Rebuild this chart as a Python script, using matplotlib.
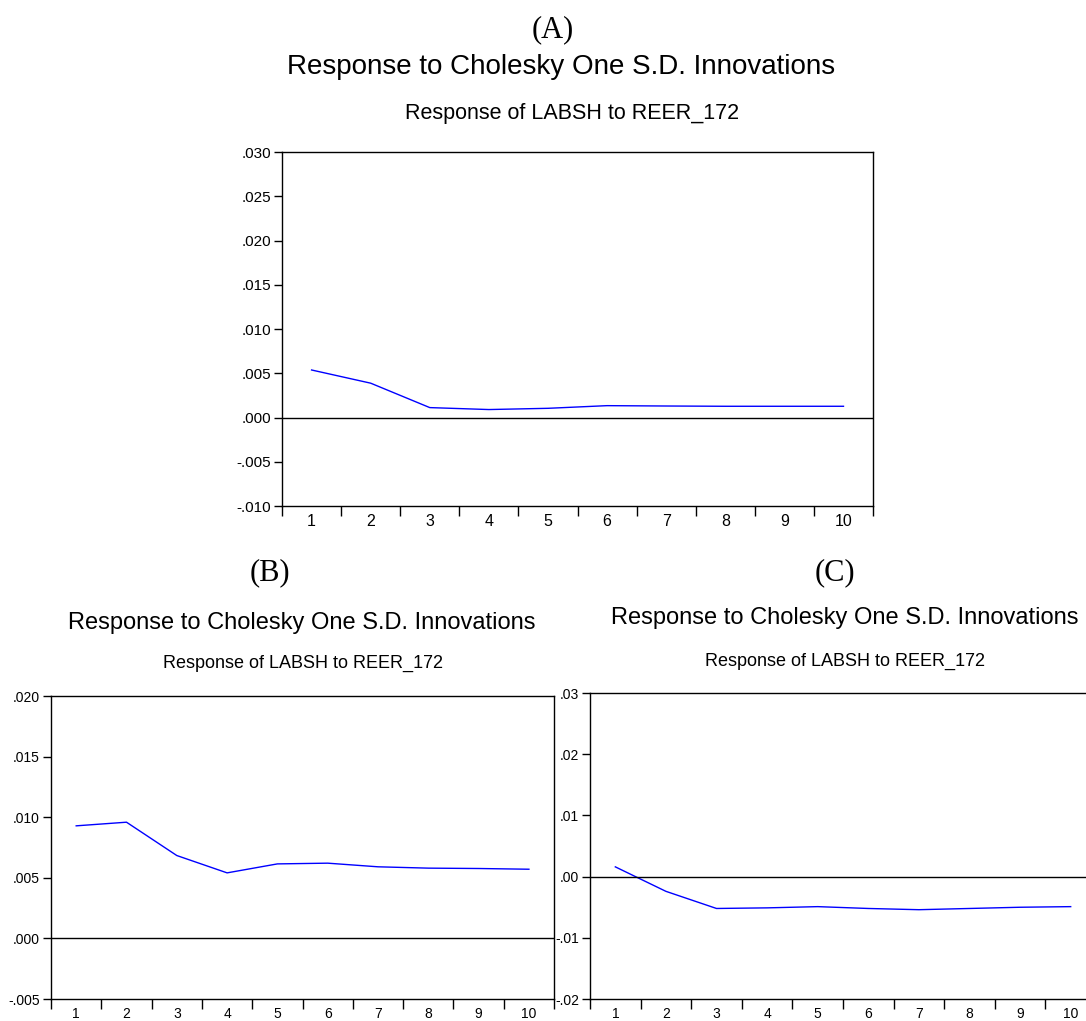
import matplotlib
matplotlib.use("Agg")
import matplotlib.pyplot as plt
import numpy as np

plt.rcParams["font.family"] = ["Liberation Sans", "DejaVu Sans"]

# impulse responses
periods = np.arange(1, 11)
resp_a = [0.00537, 0.00388, 0.00112, 0.00090, 0.00104, 0.00134, 0.00130, 0.00127, 0.00127, 0.00127]
resp_b = [0.00929, 0.00959, 0.00684, 0.00541, 0.00615, 0.00621, 0.00591, 0.00580, 0.00577, 0.00571]
resp_c = [0.0016, -0.0024, -0.0052, -0.0051, -0.0049, -0.0052, -0.0054, -0.0052, -0.0050, -0.0049]

yticks_a = [-0.010, -0.005, 0.000, 0.005, 0.010, 0.015, 0.020, 0.025, 0.030]
yticks_b = [-0.005, 0.000, 0.005, 0.010, 0.015, 0.020]
yticks_c = [-0.02, -0.01, 0.00, 0.01, 0.02, 0.03]

main_title = "Response to Cholesky One S.D. Innovations"
sub_title = "Response of LABSH to REER_172"


def fmt(v, nd):
    s = f"{v:.{nd}f}"
    return s.replace("0.", ".", 1)


def panel(ax, y, yticks, nd, fs_y, fs_x):
    ax.plot(periods, y, color="#0000ff", lw=1.0)
    ax.axhline(0, color="black", lw=1.0)
    ax.set_xlim(0.5, 10.5)
    ax.set_ylim(yticks[0], yticks[-1])
    ax.set_yticks(yticks)
    ax.set_yticklabels([fmt(v, nd) for v in yticks], fontsize=fs_y)
    # tick marks between periods, labels centred on periods
    ax.set_xticks(np.arange(0.5, 11, 1.0))
    ax.set_xticklabels([])
    ax.set_xticks(periods, minor=True)
    ax.set_xticklabels([str(p) for p in periods], minor=True, fontsize=fs_x)
    ax.tick_params(axis="x", which="major", direction="out", length=7, width=1)
    ax.tick_params(axis="x", which="minor", length=0, pad=6)
    ax.tick_params(axis="y", direction="out", length=6, width=1, pad=2)
    for sp in ax.spines.values():
        sp.set_linewidth(1.0)


fig = plt.figure(figsize=(10.86, 10.21), dpi=100)

ax_a = fig.add_axes([0.2597, 0.5044, 0.5442, 0.3467])
panel(ax_a, resp_a, yticks_a, 3, 11, 11.5)

ax_b = fig.add_axes([0.0470, 0.0215, 0.4632, 0.2968])
panel(ax_b, resp_b, yticks_b, 3, 10, 10)

ax_c = fig.add_axes([0.5433, 0.0215, 0.4659, 0.2997])
panel(ax_c, resp_c, yticks_c, 2, 10, 10)

serif = ["Liberation Serif", "DejaVu Serif"]
fig.text(0.509, 0.9706, "(A)", family=serif, fontsize=22, ha="center", va="center")
fig.text(0.5166, 0.9344, main_title, fontsize=20, ha="center", va="center")
fig.text(0.5267, 0.8893, sub_title, fontsize=15.5, ha="center", va="center")

fig.text(0.2486, 0.4388, "(B)", family=serif, fontsize=22, ha="center", va="center")
fig.text(0.278, 0.3898, main_title, fontsize=17, ha="center", va="center")
fig.text(0.279, 0.3506, sub_title, fontsize=13, ha="center", va="center")

fig.text(0.769, 0.4388, "(C)", family=serif, fontsize=22, ha="center", va="center")
fig.text(0.778, 0.3947, main_title, fontsize=17, ha="center", va="center")
fig.text(0.778, 0.3526, sub_title, fontsize=13, ha="center", va="center")

fig.savefig("out.png", dpi=100)
